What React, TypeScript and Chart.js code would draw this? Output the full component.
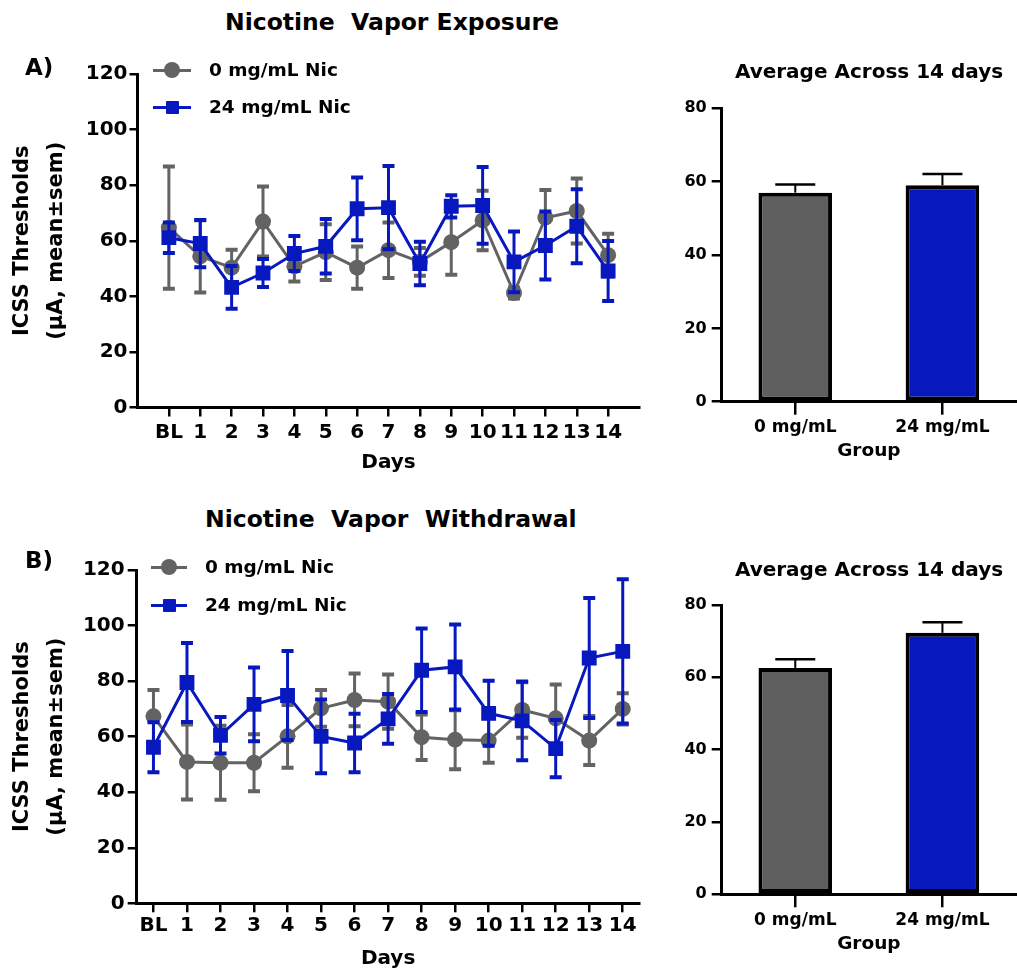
import React, { useEffect, useRef } from 'react';
import { Chart, registerables } from 'chart.js';

Chart.register(...registerables);

const FONT = '"DejaVu Sans", "Liberation Sans", sans-serif';
const GRAY = '#636363';
const BLUE = '#0818bf';
const BAR_GRAY = '#5f5f5f';
const BAR_BLUE = '#0718bd';

// ---- data ----
const dayLabels = ['BL', '1', '2', '3', '4', '5', '6', '7', '8', '9', '10', '11', '12', '13', '14'];

// A) Nicotine Vapor Exposure
const expMean0 = [64.7, 54.4, 50.3, 66.9, 50.8, 55.9, 50.3, 56.6, 52.4, 59.5, 67.3, 41.2, 68.3, 70.7, 54.8];
const expSem0 = [22, 13, 6.5, 12.6, 5.5, 10, 7.6, 10, 5, 11.7, 10.7, 2, 10, 11.7, 7.7];
const expMean24 = [61.1, 59, 43.2, 48.4, 55.4, 58, 71.5, 71.9, 51.8, 72.4, 72.7, 52.4, 58.3, 65.2, 49.1];
const expSem24 = [5.5, 8.5, 7.7, 5, 6.3, 9.8, 11.3, 15, 7.8, 4, 13.8, 10.9, 12.2, 13.3, 10.8];

// B) Nicotine Vapor Withdrawal
const wdMean0 = [67.3, 50.9, 50.6, 50.6, 60.1, 70.2, 73.2, 72.6, 59.8, 58.9, 58.6, 69.6, 66.6, 58.6, 70.0];
const wdSem0 = [9.5, 13.5, 13.3, 10.3, 11.3, 6.6, 9.5, 9.8, 8.2, 10.6, 8, 10, 12.2, 8.8, 5.6];
const wdMean24 = [56.2, 79.5, 60.5, 71.6, 74.8, 60.1, 57.7, 66.4, 83.9, 85.1, 68.4, 65.7, 55.7, 88.3, 90.7];
const wdSem24 = [9, 14.2, 6.6, 13.3, 16, 13.3, 10.5, 9, 15, 15.3, 11.7, 14.2, 10.3, 21.6, 26];

// Averages across 14 days
const groupLabels = ['0 mg/mL', '24 mg/mL'];
const expAvg = [57, 59];
const expAvgSem = [2.2, 3.1];
const wdAvg = [62.6, 72.3];
const wdAvgSem = [2.4, 2.9];

const seriesNames = ['0 mg/mL Nic', '24 mg/mL Nic'];
const lineTicks = [0, 20, 40, 60, 80, 100, 120];
const barTicks = [0, 20, 40, 60, 80];

// ---- error bar plugin ----
function drawErrors(chart: any, index: number, phase: string) {
  const ds: any = chart.data.datasets[index];
  if (!ds.errors || ds.errorPhase !== phase) return;
  const meta = chart.getDatasetMeta(index);
  const yScale = chart.scales.y;
  const ctx = chart.ctx;
  ctx.save();
  ctx.strokeStyle = ds.errorColor;
  ctx.lineWidth = ds.errorWidth;
  ctx.lineCap = 'butt';
  meta.data.forEach((el: any, i: number) => {
    const raw = ds.data[i];
    const v = typeof raw === 'number' ? raw : raw.y;
    const e = ds.errors[i];
    const x = el.x;
    const yTop = yScale.getPixelForValue(v + e);
    const yBot = yScale.getPixelForValue(ds.errorUpOnly ? v : v - e);
    const hw = ds.errorCap;
    ctx.beginPath();
    ctx.moveTo(x, yTop);
    ctx.lineTo(x, yBot);
    ctx.stroke();
    ctx.lineWidth = ds.errorCapWidth;
    ctx.beginPath();
    ctx.moveTo(x - hw, yTop);
    ctx.lineTo(x + hw, yTop);
    if (!ds.errorUpOnly) {
      ctx.moveTo(x - hw, yBot);
      ctx.lineTo(x + hw, yBot);
    }
    ctx.stroke();
    ctx.lineWidth = ds.errorWidth;
  });
  ctx.restore();
}

const errorBarPlugin = {
  id: 'errorBars',
  beforeDatasetDraw(chart: any, args: any) {
    drawErrors(chart, args.index, 'before');
  },
  afterDatasetDraw(chart: any, args: any) {
    drawErrors(chart, args.index, 'after');
  },
};

type LineOpts = {
  mean0: number[];
  sem0: number[];
  mean24: number[];
  sem24: number[];
  xMin: number;
  xMax: number;
  padTop: number;
  padRight: number;
  yWidth: number;
  xHeight: number;
  yTickLen: number;
  yPad: number;
  xTickLen: number;
  xPad: number;
  daysPadBottom: number;
};

function lineConfig(o: LineOpts): any {
  const toPts = (arr: number[]) => arr.map((v, i) => ({ x: i, y: v }));
  return {
    type: 'line',
    data: {
      datasets: [
        {
          label: seriesNames[0],
          data: toPts(o.mean0),
          borderColor: GRAY,
          backgroundColor: GRAY,
          borderWidth: 3,
          pointStyle: 'circle',
          pointRadius: 8,
          pointBorderWidth: 0,
          pointBackgroundColor: GRAY,
          order: 2,
          errors: o.sem0,
          errorPhase: 'before',
          errorColor: GRAY,
          errorWidth: 3,
          errorCapWidth: 4,
          errorCap: 6,
        },
        {
          label: seriesNames[1],
          data: toPts(o.mean24),
          borderColor: BLUE,
          backgroundColor: BLUE,
          borderWidth: 3,
          pointStyle: 'rect',
          pointRadius: 10.5,
          pointBorderWidth: 0,
          pointBackgroundColor: BLUE,
          order: 1,
          errors: o.sem24,
          errorPhase: 'before',
          errorColor: BLUE,
          errorWidth: 3,
          errorCapWidth: 4,
          errorCap: 6,
        },
      ],
    },
    options: {
      animation: false,
      responsive: false,
      events: [],
      layout: { padding: { top: o.padTop, right: o.padRight, left: 0, bottom: 0 } },
      plugins: { legend: { display: false }, tooltip: { enabled: false } },
      scales: {
        x: {
          type: 'linear',
          min: o.xMin,
          max: o.xMax,
          afterBuildTicks: (s: any) => {
            s.ticks = dayLabels.map((_, i) => ({ value: i }));
          },
          afterFit: (s: any) => {
            s.height = o.xHeight;
          },
          ticks: {
            autoSkip: false,
            maxRotation: 0,
            padding: o.xPad,
            color: '#000',
            font: { family: FONT, size: 20, weight: 'bold' },
            callback: (v: any) => dayLabels[v] ?? '',
          },
          grid: { drawOnChartArea: false, drawTicks: true, tickLength: o.xTickLen, color: '#000', lineWidth: 2.5 },
          border: { display: true, color: '#000', width: 3 },
          title: {
            display: true,
            text: 'Days',
            color: '#000',
            font: { family: FONT, size: 20, weight: 'bold', lineHeight: 1.2 },
            padding: { top: 0, bottom: o.daysPadBottom },
          },
        },
        y: {
          type: 'linear',
          min: lineTicks[0],
          max: lineTicks[lineTicks.length - 1],
          afterBuildTicks: (s: any) => {
            s.ticks = lineTicks.map((v) => ({ value: v }));
          },
          afterFit: (s: any) => {
            s.width = o.yWidth;
          },
          ticks: {
            padding: o.yPad,
            color: '#000',
            font: { family: FONT, size: 20, weight: 'bold' },
          },
          grid: { drawOnChartArea: false, drawTicks: true, tickLength: o.yTickLen, color: '#000', lineWidth: 2.5 },
          border: { display: true, color: '#000', width: 3 },
          title: {
            display: true,
            text: ['ICSS Thresholds', '(\u00b5A, mean\u00b1sem)'],
            color: '#000',
            font: { family: FONT, size: 21, weight: 'bold', lineHeight: 1.62 },
            padding: { top: 6, bottom: 0 },
          },
        },
      },
    },
    plugins: [errorBarPlugin],
  };
}

type BarOpts = {
  values: number[];
  sems: number[];
  padTop: number;
  yWidth: number;
  xHeight: number;
  groupPadBottom: number;
};

function barConfig(o: BarOpts): any {
  return {
    type: 'bar',
    data: {
      labels: groupLabels,
      datasets: [
        {
          data: o.values,
          backgroundColor: [BAR_GRAY, BAR_BLUE],
          borderColor: '#000',
          borderWidth: 4,
          borderSkipped: false,
          barPercentage: 0.5,
          categoryPercentage: 1,
          errors: o.sems,
          errorPhase: 'after',
          errorUpOnly: true,
          errorColor: '#000',
          errorWidth: 2,
          errorCapWidth: 2.5,
          errorCap: 20,
        },
      ],
    },
    options: {
      animation: false,
      responsive: false,
      events: [],
      layout: { padding: { top: o.padTop, right: 1, left: 0, bottom: 0 } },
      plugins: { legend: { display: false }, tooltip: { enabled: false } },
      scales: {
        x: {
          type: 'category',
          offset: true,
          afterFit: (s: any) => {
            s.height = o.xHeight;
          },
          ticks: {
            padding: 3,
            color: '#000',
            font: { family: FONT, size: 17, weight: 'bold' },
          },
          grid: { offset: false, drawOnChartArea: false, drawTicks: true, tickLength: 13, color: '#000', lineWidth: 2.5 },
          border: { display: true, color: '#000', width: 3 },
          title: {
            display: true,
            text: 'Group',
            color: '#000',
            font: { family: FONT, size: 18.5, weight: 'bold', lineHeight: 1.2 },
            padding: { top: 0, bottom: o.groupPadBottom },
          },
        },
        y: {
          type: 'linear',
          min: barTicks[0],
          max: barTicks[barTicks.length - 1],
          afterBuildTicks: (s: any) => {
            s.ticks = barTicks.map((v) => ({ value: v }));
          },
          afterFit: (s: any) => {
            s.width = o.yWidth;
          },
          ticks: {
            padding: 5,
            color: '#000',
            font: { family: FONT, size: 16, weight: 'bold' },
          },
          grid: { drawOnChartArea: false, drawTicks: true, tickLength: 10, color: '#000', lineWidth: 2.5 },
          border: { display: true, color: '#000', width: 3 },
        },
      },
    },
    plugins: [errorBarPlugin],
  };
}

function ChartCanvas(props: { left: number; top: number; width: number; height: number; config: () => any }) {
  const ref = useRef<HTMLCanvasElement | null>(null);
  useEffect(() => {
    if (!ref.current) return;
    const chart = new Chart(ref.current, props.config());
    return () => chart.destroy();
  }, []);
  return (
    <canvas
      ref={ref}
      width={props.width}
      height={props.height}
      style={{ position: 'absolute', left: props.left, top: props.top, width: props.width, height: props.height, display: 'block' }}
    />
  );
}

function Text(props: { x: number; cy: number; size: number; text: string; center?: boolean }) {
  return (
    <div
      style={{
        position: 'absolute',
        left: props.x,
        top: props.cy,
        transform: props.center ? 'translate(-50%, -50%)' : 'translateY(-50%)',
        fontFamily: FONT,
        fontWeight: 'bold',
        fontSize: props.size,
        lineHeight: 1.2,
        whiteSpace: 'pre',
        color: '#000',
        zIndex: 2,
      }}
    >
      {props.text}
    </div>
  );
}

function LegendMarker(props: { x: number; cy: number; w: number; color: string; square?: boolean }) {
  const size = props.square ? 13 : 16;
  return (
    <div style={{ position: 'absolute', left: props.x, top: props.cy - 10, width: props.w, height: 20, zIndex: 2 }}>
      <div style={{ position: 'absolute', left: 0, top: 8.5, width: props.w, height: 3, background: props.color }} />
      <div
        style={{
          position: 'absolute',
          left: props.w / 2 - size / 2,
          top: 10 - size / 2,
          width: size,
          height: size,
          background: props.color,
          borderRadius: props.square ? 1 : '50%',
        }}
      />
    </div>
  );
}

export default function App() {
  return (
    <div style={{ position: 'absolute', left: 0, top: 0, width: 1017, height: 976, background: '#fff', overflow: 'hidden' }}>
      <ChartCanvas
        left={0}
        top={60}
        width={650}
        height={420}
        config={() =>
          lineConfig({
            mean0: expMean0,
            sem0: expSem0,
            mean24: expMean24,
            sem24: expSem24,
            xMin: -1,
            xMax: 15,
            padTop: 12,
            padRight: 8.3,
            yWidth: 137.5,
            xHeight: 72.5,
            yTickLen: 8,
            yPad: 2,
            xTickLen: 9,
            xPad: 4,
            daysPadBottom: 5,
          })
        }
      />
      <ChartCanvas
        left={640}
        top={40}
        width={377}
        height={440}
        config={() => barConfig({ values: expAvg, sems: expAvgSem, padTop: 68.3, yWidth: 81.7, xHeight: 78.3, groupPadBottom: 18 })}
      />
      <ChartCanvas
        left={0}
        top={555}
        width={650}
        height={421}
        config={() =>
          lineConfig({
            mean0: wdMean0,
            sem0: wdSem0,
            mean24: wdMean24,
            sem24: wdSem24,
            xMin: -0.5,
            xMax: 14.5,
            padTop: 12.3,
            padRight: 10,
            yWidth: 136.7,
            xHeight: 72.7,
            yTickLen: 9,
            yPad: 3,
            xTickLen: 9,
            xPad: 1,
            daysPadBottom: 5,
          })
        }
      />
      <ChartCanvas
        left={640}
        top={535}
        width={377}
        height={441}
        config={() => barConfig({ values: wdAvg, sems: wdAvgSem, padTop: 70, yWidth: 81.7, xHeight: 81.7, groupPadBottom: 21 })}
      />

      <Text x={225} cy={22} size={23.5} text={'Nicotine  Vapor Exposure'} />
      <Text x={25} cy={68} size={23} text={'A)'} />
      <LegendMarker x={153} cy={70} w={38} color={GRAY} />
      <Text x={209} cy={70} size={18.5} text={seriesNames[0]} />
      <LegendMarker x={153} cy={107} w={38} color={BLUE} square />
      <Text x={209} cy={107} size={18.5} text={seriesNames[1]} />
      <Text x={869} cy={71} size={20} text={'Average Across 14 days'} center />

      <Text x={205} cy={519} size={23.5} text={'Nicotine  Vapor  Withdrawal'} />
      <Text x={25} cy={561} size={23} text={'B)'} />
      <LegendMarker x={151} cy={567} w={36} color={GRAY} />
      <Text x={205} cy={567} size={18.5} text={seriesNames[0]} />
      <LegendMarker x={151} cy={605} w={36} color={BLUE} square />
      <Text x={205} cy={605} size={18.5} text={seriesNames[1]} />
      <Text x={869} cy={569} size={20} text={'Average Across 14 days'} center />
    </div>
  );
}
